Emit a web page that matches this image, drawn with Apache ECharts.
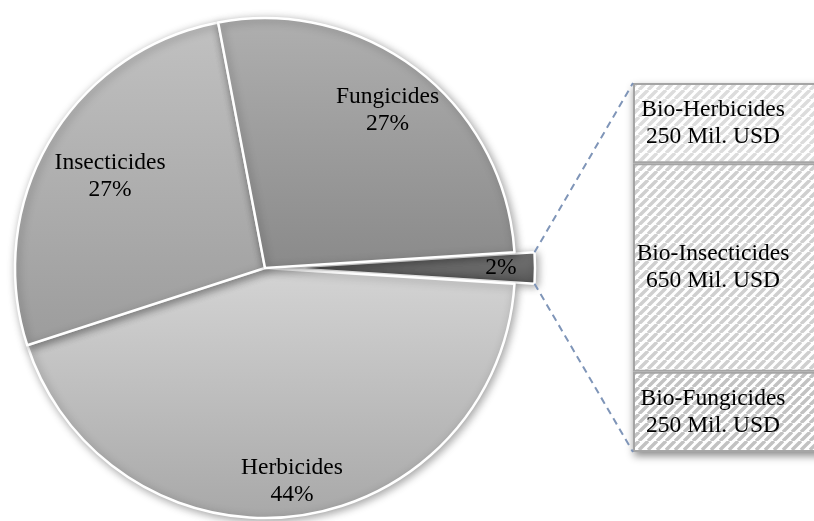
<!DOCTYPE html>
<html><head><meta charset="utf-8">
<script src="https://cdn.jsdelivr.net/npm/echarts@6/dist/echarts.min.js"></script>
<style>html,body{margin:0;padding:0;background:#fff}#c{width:814px;height:521px}</style>
</head><body><div id="c"></div>
<script>
// ---- data ----
const pieNames = ['Bio', 'Herbicides', 'Insecticides', 'Fungicides'];
const pieValues = [2, 44, 27, 27];
const barCategories = ['Bio-Fungicides', 'Bio-Insecticides', 'Bio-Herbicides'];
const barValues = [250, 650, 250];
const barUnit = 'Mil. USD';

// ---- style ----
const FONT = '"Liberation Serif","Times New Roman",serif';
const pieCenter = [265, 268], pieRadius = 250, startAngle = 3.6, explode = 20;
const labelRadii = [213, 212, 177, 197];
const sliceColors = [['#787878', '#575757'], ['#d4d4d4', '#a8a8a8'], ['#c1c1c1', '#9c9c9c'], ['#afafaf', '#8a8a8a']];
const hatchColors = ['#c2c2c2', '#cfcfcf', '#dcdcdc'];

function hatch(color) {
  const s = 9, c = document.createElement('canvas');
  c.width = s; c.height = s;
  const g = c.getContext('2d');
  g.fillStyle = '#fff'; g.fillRect(0, 0, s, s);
  g.strokeStyle = color; g.lineWidth = 3.4;
  g.beginPath();
  for (let k = -1; k <= 1; k++) { g.moveTo(k * s, s); g.lineTo(k * s + s, 0); }
  g.stroke();
  return c;
}
function grad(i) {
  return new echarts.graphic.LinearGradient(0, 0, 0, 1, [
    { offset: 0, color: sliceColors[i][0] }, { offset: 1, color: sliceColors[i][1] }]);
}

const pieTotal = pieValues.reduce((a, b) => a + b, 0);
const barTotal = barValues.reduce((a, b) => a + b, 0);
let cum = 0;
const mids = pieValues.map(v => { const m = startAngle - (cum + v / 2) / pieTotal * 360; cum += v; return m * Math.PI / 180; });

const chart = echarts.init(document.getElementById('c'), null, { renderer: 'canvas' });
const textStyle = { fontFamily: FONT, fontSize: 23.5, lineHeight: 27, color: '#000' };

chart.setOption({
  animation: false,
  backgroundColor: '#fff',
  grid: { left: 633, top: 83, width: 230, height: 369, outerBoundsMode: 'none', containLabel: false },
  xAxis: { type: 'category', data: ['bio'], show: false },
  yAxis: { type: 'value', min: 0, max: barTotal, show: false },
  series: [
    {
      type: 'pie', center: pieCenter, radius: [0, pieRadius], startAngle: startAngle, clockwise: true,
      selectedMode: 'single', selectedOffset: explode,
      data: pieNames.map((n, i) => ({ name: n, value: pieValues[i], selected: i === 0, itemStyle: { color: grad(i) } })),
      label: Object.assign({ show: true, position: 'inside',
        formatter: p => p.dataIndex === 0 ? p.value + '%' : p.name + '\n' + p.value + '%' }, textStyle),
      labelLine: { show: false },
      labelLayout: p => { const i = p.dataIndex, d = labelRadii[i] - pieRadius / 2;
        return { dx: d * Math.cos(mids[i]), dy: -d * Math.sin(mids[i]) }; },
      itemStyle: { borderColor: '#fff', borderWidth: 2.5, shadowBlur: 8, shadowColor: 'rgba(0,0,0,0.35)', shadowOffsetX: 2, shadowOffsetY: 2 },
      emphasis: { disabled: true }
    }
  ].concat(barCategories.map((c, i) => ({
    type: 'bar', stack: 'bio', name: c, data: [barValues[i]], barWidth: '100%',
    itemStyle: { color: { image: hatch(hatchColors[i]), repeat: 'repeat' }, borderColor: '#a5a5a5', borderWidth: 2 },
    label: Object.assign({ show: true, position: [80, '50%'], align: 'center', verticalAlign: 'middle',
      formatter: c + '\n' + barValues[i] + ' ' + barUnit }, textStyle),
    emphasis: { disabled: true }
  })))
});

// connector lines and the bar's drop shadow, added directly to the renderer
const lay = chart.getModel().getSeriesByIndex(0).getData().getItemLayout(0);
const midA = (lay.startAngle + lay.endAngle) / 2;
const ox = lay.cx + explode * Math.cos(midA), oy = lay.cy + explode * Math.sin(midA);
const p1 = [ox + lay.r * Math.cos(lay.startAngle), oy + lay.r * Math.sin(lay.startAngle)];
const p2 = [ox + lay.r * Math.cos(lay.endAngle), oy + lay.r * Math.sin(lay.endAngle)];
const rect = chart.getModel().getComponent('grid').coordinateSystem.getRect();
const yTop = chart.convertToPixel({ yAxisIndex: 0 }, barTotal);
const yBot = chart.convertToPixel({ yAxisIndex: 0 }, 0);
const a = [p1, p2].sort((u, v) => u[1] - v[1]);
const ls = { stroke: '#7f95b8', lineWidth: 2, lineDash: [7, 5] };
const zr = chart.getZr();
zr.add(new echarts.graphic.Rect({ shape: { x: rect.x, y: yTop, width: rect.width, height: yBot - yTop },
  style: { fill: '#fff', shadowBlur: 8, shadowColor: 'rgba(0,0,0,0.45)', shadowOffsetY: 4, shadowOffsetX: 1 }, z: -1 }));
zr.add(new echarts.graphic.Line({ shape: { x1: a[0][0], y1: a[0][1], x2: rect.x, y2: yTop }, style: ls, z: 10 }));
zr.add(new echarts.graphic.Line({ shape: { x1: a[1][0], y1: a[1][1], x2: rect.x, y2: yBot }, style: ls, z: 10 }));
</script></body></html>
